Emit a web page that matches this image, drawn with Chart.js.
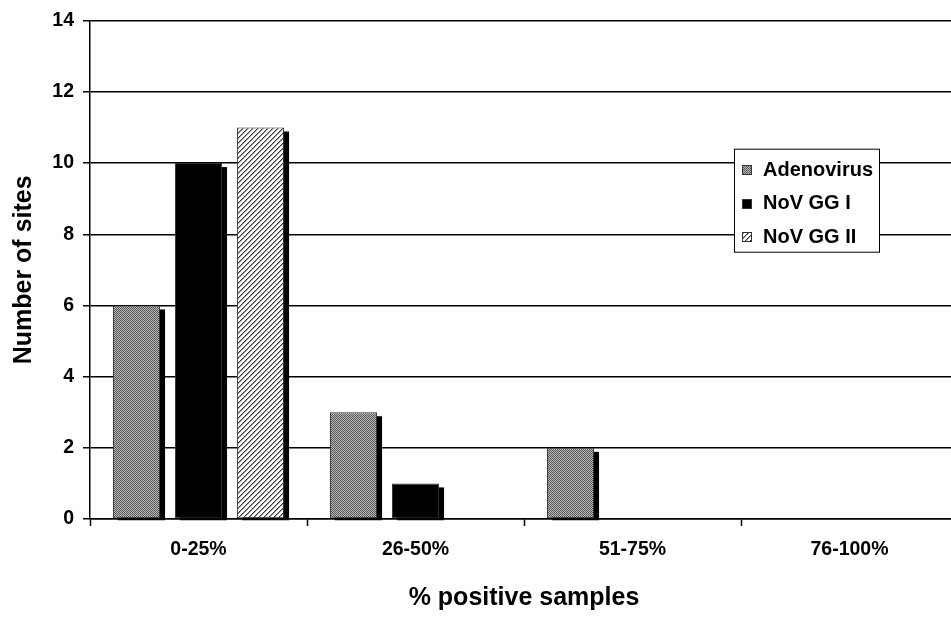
<!DOCTYPE html>
<html>
<head>
<meta charset="utf-8">
<script src="https://cdn.jsdelivr.net/npm/chart.js@4/dist/chart.umd.min.js"></script>
<style>
  html, body { margin: 0; padding: 0; background: #fff; overflow: hidden; }
  #wrap { width: 951px; height: 617px; overflow: hidden; }
  canvas { display: block; }
</style>
</head>
<body>
<div id="wrap"><canvas id="c" width="958" height="617"></canvas></div>
<script>
const categories = ["0-25%", "26-50%", "51-75%", "76-100%"];
const seriesNames = ["Adenovirus", "NoV GG I", "NoV GG II"];
const adenovirus = [6, 3, 2, 0];
const novGG1 = [10, 1, 0, 0];
const novGG2 = [11, 0, 0, 0];
const yTicks = [0, 2, 4, 6, 8, 10, 12, 14];
const xTitle = "% positive samples";
const yTitle = "Number of sites";

const FONT = '"Liberation Sans", Arial, Helvetica, sans-serif';

function checkerPattern() {
  const c = document.createElement('canvas');
  c.width = 2; c.height = 2;
  const g = c.getContext('2d');
  g.fillStyle = '#b4b4b4'; g.fillRect(0, 0, 2, 2);
  g.fillStyle = '#5c5c5c'; g.fillRect(0, 0, 1, 1); g.fillRect(1, 1, 1, 1);
  return g.createPattern(c, 'repeat');
}
function hatchPattern() {
  const n = 5;
  const c = document.createElement('canvas');
  c.width = n; c.height = n;
  const g = c.getContext('2d');
  g.fillStyle = '#ffffff'; g.fillRect(0, 0, n, n);
  for (let x = 0; x < n; x++) {
    for (let y = 0; y < n; y++) {
      const k = (x + y) % n;
      if (k === 0) { g.fillStyle = '#3a3a3a'; g.fillRect(x, y, 1, 1); }
      else if (k === 1) { g.fillStyle = '#9a9a9a'; g.fillRect(x, y, 1, 1); }
    }
  }
  return g.createPattern(c, 'repeat');
}

const fills = [checkerPattern(), '#000000', hatchPattern()];
const seriesData = [adenovirus, novGG1, novGG2];

const shadowPlugin = {
  id: 'shadow',
  beforeDatasetsDraw(chart) {
    const ctx = chart.ctx;
    ctx.save();
    ctx.fillStyle = '#000';
    chart.data.datasets.forEach((ds, i) => {
      const meta = chart.getDatasetMeta(i);
      meta.data.forEach((bar) => {
        const p = bar.getProps(['x', 'y', 'base', 'width'], true);
        if (Math.abs(p.base - p.y) < 0.5) return;
        const left = p.x - p.width / 2 + 5;
        const top = Math.min(p.y, p.base) + 4;
        const bottom = Math.max(p.y, p.base) + 2;
        ctx.fillRect(left, top, p.width, bottom - top);
      });
    });
    ctx.restore();
  }
};

const legendPlugin = {
  id: 'boxLegend',
  afterDraw(chart) {
    const ctx = chart.ctx;
    const ca = chart.chartArea;
    const bx = ca.left + 644.5, by = ca.top + 128.5, bw = 145, bh = 103;
    ctx.save();
    ctx.fillStyle = '#fff';
    ctx.fillRect(bx, by, bw, bh);
    ctx.strokeStyle = '#000';
    ctx.lineWidth = 1;
    ctx.strokeRect(bx, by, bw, bh);
    ctx.font = 'bold 20px ' + FONT;
    ctx.textBaseline = 'middle';
    ctx.textAlign = 'left';
    chart.data.datasets.forEach((ds, i) => {
      const cy = by + 21 + i * 33.5;
      const ix = Math.round(bx + 7.5), iy = Math.round(cy - 5);
      ctx.fillStyle = ds.backgroundColor;
      ctx.fillRect(ix, iy, 10, 10);
      ctx.strokeStyle = '#333';
      ctx.strokeRect(ix + 0.5, iy + 0.5, 9, 9);
      ctx.fillStyle = '#000';
      ctx.fillText(ds.label, bx + 28.5, cy);
    });
    ctx.restore();
  }
};

new Chart(document.getElementById('c'), {
  type: 'bar',
  data: {
    labels: categories,
    datasets: seriesNames.map((name, i) => ({
      label: name,
      data: seriesData[i],
      backgroundColor: fills[i],
      borderColor: '#333333',
      borderWidth: 1,
      borderSkipped: false,
      categoryPercentage: 0.857,
      barPercentage: 0.76
    }))
  },
  options: {
    responsive: false,
    animation: false,
    devicePixelRatio: 1,
    layout: { padding: { top: 18, right: 0, left: 0, bottom: 0 } },
    plugins: {
      legend: { display: false },
      tooltip: { enabled: false },
      title: { display: false }
    },
    scales: {
      x: {
        type: 'category',
        offset: true,
        grid: {
          display: true,
          drawOnChartArea: false,
          drawTicks: true,
          tickLength: 7,
          tickColor: '#000',
          tickWidth: 1.5,
          offset: true
        },
        border: { display: true, color: '#000', width: 1.5 },
        ticks: {
          color: '#000',
          padding: 12,
          maxRotation: 0,
          font: { family: FONT, size: 19.5, weight: 'bold' }
        },
        title: {
          display: true,
          text: xTitle,
          color: '#000',
          font: { family: FONT, size: 25, weight: 'bold' },
          padding: { top: 0, bottom: 4 }
        },
        afterFit(scale) { scale.height = 98; }
      },
      y: {
        min: yTicks[0],
        max: yTicks[yTicks.length - 1],
        afterBuildTicks(scale) { scale.ticks = yTicks.map(v => ({ value: v })); },
        grid: {
          color: '#000',
          lineWidth: 1.5,
          drawTicks: true,
          tickLength: 7,
          tickColor: '#000',
          tickWidth: 1.5
        },
        border: { display: true, color: '#000', width: 1.5 },
        ticks: {
          color: '#000',
          padding: 9,
          font: { family: FONT, size: 19.5, weight: 'bold' }
        },
        title: {
          display: true,
          text: yTitle,
          color: '#000',
          font: { family: FONT, size: 25, weight: 'bold' },
          padding: { top: 9, bottom: 0 }
        },
        afterFit(scale) { scale.width = 90; }
      }
    }
  },
  plugins: [shadowPlugin, legendPlugin]
});
</script>
</body>
</html>
